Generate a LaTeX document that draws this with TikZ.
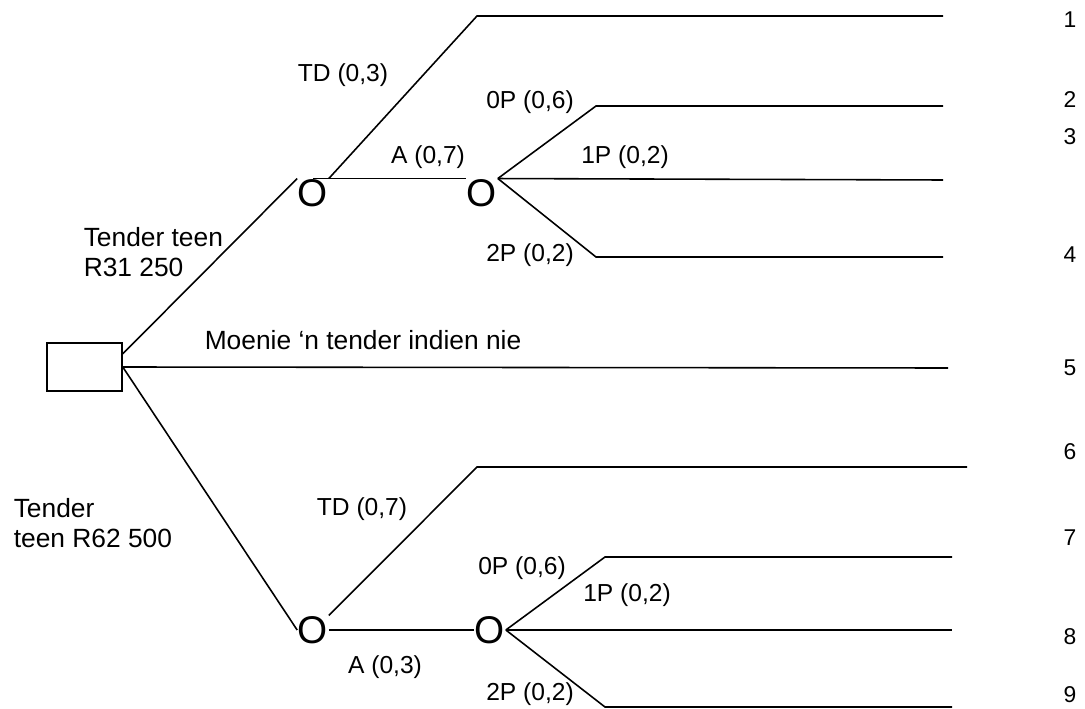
\documentclass[tikz,border=0pt]{standalone}
\usepackage{fontspec}
\setmainfont{Liberation Sans}
\usetikzlibrary{positioning}

\begin{document}
\begin{tikzpicture}[
          x = 0.02cm, y = -0.02cm, % pixel grid of the drawing
          line width = 0.9pt, % line style
          every node/.style = {font=\fontsize{14}{16}\selectfont},
          ]

          \tikzset{
          decision/.style = {draw, minimum width=1.5cm, minimum height=0.96cm, inner sep=0pt},
          chance/.style = {inner sep=0pt, font=\fontsize{22}{22}\selectfont},
          big/.style = {align=left, inner sep=0pt, font=\fontsize{15}{17}\selectfont},
          prob/.style = {inner sep=1pt},
          payoff/.style = {inner sep=0pt, font=\fontsize{13}{15}\selectfont}
          }

          \useasboundingbox (0,0) rectangle (1085,709);

          % nodes
          \node[decision] (dec) at (84.5,367) {};
          \node[chance] (c1) at (313,193) {O};
          \node[chance] (c2) at (482,193) {O};
          \node[chance] (c3) at (313,630) {O};
          \node[chance] (c4) at (490,630) {O};

          % corners and ends of the branches
          \coordinate (k1) at (477,16);
          \coordinate (k2) at (596,106);
          \coordinate (k4) at (596,257);
          \coordinate (k6) at (477,467);
          \coordinate (k7) at (605,557);
          \coordinate (k9) at (605,707);
          \coordinate (e1) at (943,16);
          \coordinate (e2) at (943,106);
          \coordinate (e3) at (943,180);
          \coordinate (e4) at (943,257);
          \coordinate (e5) at (948,368);
          \coordinate (e6) at (967,467);
          \coordinate (e7) at (952,557);
          \coordinate (e8) at (952,630);
          \coordinate (e9) at (952,707);

          % branches
          \draw (dec.19) -- (c1.north west);
          \draw (dec.east) -- (e5);
          \draw (dec.east) -- (c3.west);
          \draw (c1.north east) -- (k1) -- (e1);
          \draw (c1.north) -- (c2.north west);
          \draw (c2.north east) -- (k2) -- (e2);
          \draw (c2.north east) -- (e3);
          \draw (c2.north east) -- (k4) -- (e4);
          \draw (c3.north east) -- (k6) -- (e6);
          \draw (c3.east) -- (c4.west);
          \draw (c4.east) -- (k7) -- (e7);
          \draw (c4.east) -- (e8);
          \draw (c4.east) -- (k9) -- (e9);

          % labels
          \node[big, anchor=west] (tl1) at (83,252) {Tender teen\\R31 250};
          \node[big, anchor=west] (tl2) at (204,340) {Moenie ‘n tender indien nie};
          \node[big, anchor=west] (tl3) at (13,523) {Tender\\teen R62 500};
          \node[prob] (p1) at (343,75) {TD (0,3)};
          \node[prob] (p2) at (530,102) {0P (0,6)};
          \node[prob] (p3) at (428,157) {A (0,7)};
          \node[prob] (p4) at (625,157) {1P (0,2)};
          \node[prob] (p5) at (530,255) {2P (0,2)};
          \node[prob] (p6) at (362,509) {TD (0,7)};
          \node[prob] (p7) at (522,568) {0P (0,6)};
          \node[prob] (p8) at (627,595) {1P (0,2)};
          \node[prob] (p9) at (385,667) {A (0,3)};
          \node[prob] (p10) at (530,694) {2P (0,2)};

          % outcome numbers
          \foreach \n/\y in {1/20, 2/100, 3/137, 4/255, 5/368, 6/452, 7/538, 8/637, 9/695}
            \node[payoff] (o\n) at (1070,\y) {\n};

        \end{tikzpicture}
\end{document}
